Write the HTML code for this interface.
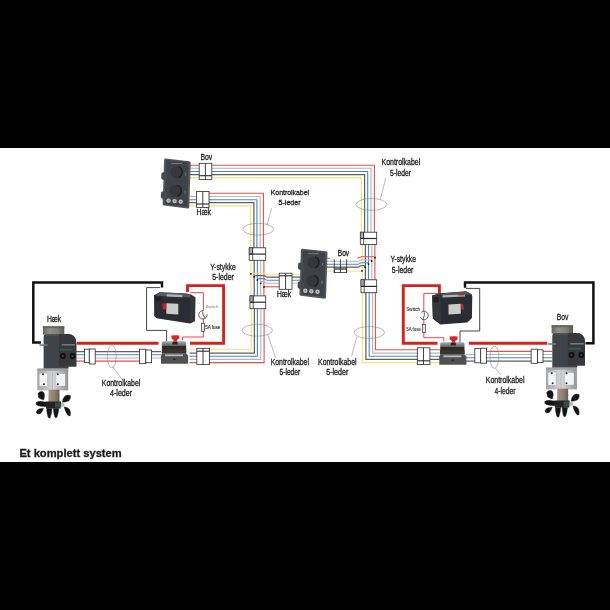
<!DOCTYPE html>
<html><head><meta charset="utf-8">
<style>
html,body{margin:0;padding:0;background:#fff;width:610px;height:610px;overflow:hidden}
svg{display:block;will-change:transform}
text{font-family:"Liberation Sans",sans-serif;fill:#1a1a1a;stroke:#1a1a1a;stroke-width:0.3}
.lbl{font-size:8.2px}
.w{fill:none;stroke-width:1.1}
.r{stroke:#e25050}.g{stroke:#b5b5b5}.b{stroke:#4a84d0}.d{stroke:#606060;stroke-width:1.25}.y{stroke:#f5e27a}
</style></head><body>
<svg width="610" height="610" viewBox="0 0 610 610">

<defs>
<linearGradient id="cyl" x1="0" x2="1" y1="0" y2="0">
<stop offset="0" stop-color="#646660"/><stop offset="0.3" stop-color="#8f9088"/><stop offset="0.7" stop-color="#7f8079"/><stop offset="1" stop-color="#585a55"/>
</linearGradient>
<linearGradient id="brk" x1="0" x2="1" y1="0" y2="0">
<stop offset="0" stop-color="#a4a5a8"/><stop offset="0.5" stop-color="#d4d5d7"/><stop offset="1" stop-color="#939497"/>
</linearGradient>
<linearGradient id="lid" x1="0" x2="0" y1="0" y2="1">
<stop offset="0" stop-color="#a9aaad"/><stop offset="1" stop-color="#5d5e61"/>
</linearGradient>
<radialGradient id="knob" cx="0.35" cy="0.4" r="0.7">
<stop offset="0" stop-color="#4a4c50"/><stop offset="1" stop-color="#222326"/>
</radialGradient>
<g id="panel">
<path d="M165.6,158.6 L189.2,161.2 Q190.8,161.4 190.7,163 L189.3,207.2 Q189.2,208.8 187.6,208.6 L164,205.6 Q162.5,205.4 162.6,204 L164.1,160 Q164.2,158.5 165.6,158.6 Z" fill="#55585c"/>
<path d="M166,160.1 L188.6,162.6 L187.6,207 L164.3,204.2 Z" fill="#3f4246"/>
<path d="M161.4,173.5 Q162,172 165,172.4 L167.5,173.5 L167.5,179.6 L164,180 Q161.2,179.8 161.2,177.5 Z" fill="#46494d"/>
<path d="M161,192.4 Q161.6,190.9 164.6,191.3 L167.1,192.4 L167.1,198.5 L163.6,198.9 Q160.8,198.7 160.8,196.4 Z" fill="#46494d"/>
<circle cx="176.4" cy="172.2" r="5.9" fill="#35373b"/>
<path d="M178.4,166.7 A5.9,5.9 0 0 1 178.4,177.7" fill="none" stroke="#1e1f22" stroke-width="1.4"/>
<circle cx="175.5" cy="190.8" r="5.9" fill="#35373b"/>
<path d="M177.5,185.3 A5.9,5.9 0 0 1 177.5,196.3" fill="none" stroke="#1e1f22" stroke-width="1.4"/>
<rect x="171.2" y="163.1" width="11" height="0.9" fill="#7d8084"/>
<rect x="185.1" y="172.6" width="1" height="3.2" fill="#4f8c68"/>
<rect x="184.6" y="190.6" width="1" height="3.2" fill="#4f8c68"/>
<circle cx="168.5" cy="200.6" r="2.2" fill="#c3c4c6"/><circle cx="168.5" cy="200.6" r="1" fill="#8a8c8f"/>
<circle cx="174.6" cy="201.1" r="2.2" fill="#c3c4c6"/><circle cx="174.6" cy="201.1" r="1" fill="#8a8c8f"/>
<circle cx="180.7" cy="201.6" r="2.2" fill="#c3c4c6"/><circle cx="180.7" cy="201.6" r="1" fill="#8a8c8f"/>
</g>
<g id="thruster">
<rect x="42.9" y="326.2" width="21.4" height="8.4" fill="url(#cyl)"/>
<rect x="42.9" y="326.2" width="21.4" height="2" fill="#5c5e59" opacity="0.8"/>
<path d="M37.3,368.6 L68.2,368.6 L68.2,390.4 L37.3,390.4 Z" fill="url(#brk)"/>
<rect x="37.3" y="368.6" width="30.9" height="2.2" fill="#9d9ea0"/>
<rect x="39.5" y="373.6" width="7.6" height="12.4" fill="#f4f4f4"/>
<rect x="56.3" y="373.8" width="8.8" height="12" fill="#f4f4f4"/>
<line x1="52.4" y1="369" x2="52.4" y2="390" stroke="#a9aaac" stroke-width="0.7"/>
<circle cx="43" cy="374.2" r="1" fill="#333"/><circle cx="44" cy="384.3" r="1" fill="#333"/>
<circle cx="57.8" cy="374.2" r="1" fill="#333"/><circle cx="57.8" cy="384.3" r="1" fill="#333"/>
<path d="M43.6,337.2 Q43.6,333.9 46.8,333.9 L67,333.9 Q76.3,334 76.3,343 L76.3,366.6 L68.5,366.6 L68.5,368.6 L43.6,368.6 Z" fill="#404347"/>
<path d="M59.1,334.1 L67,334.1 Q76.3,334.2 76.3,343 L76.3,366.6 L59.1,366.6 Z" fill="#36383b"/>
<rect x="46" y="334.2" width="13" height="1.4" fill="#54575b"/>
<rect x="39.4" y="344.2" width="8" height="1.6" fill="#7a7c7f"/>
<rect x="61.6" y="344.4" width="13.4" height="0.9" fill="#a5a7a9"/>
<rect x="59.9" y="348.6" width="12.5" height="2" fill="#3a5650"/>
<circle cx="62.9" cy="356" r="2.9" fill="#0e0e0e"/><circle cx="62.9" cy="356" r="1.1" fill="#4a4a4a"/>
<circle cx="72.6" cy="356" r="2.9" fill="#0e0e0e"/><circle cx="72.6" cy="356" r="1.1" fill="#4a4a4a"/>
<defs><linearGradient id="shaft" x1="0" x2="1"><stop offset="0" stop-color="#a39580"/><stop offset="0.6" stop-color="#8a7e6b"/><stop offset="1" stop-color="#5f5a52"/></linearGradient></defs>
<path d="M48.6,389.8 L59.4,389.8 L59.6,402 L48.4,402 Z" fill="url(#shaft)"/>
<g fill="#141414" stroke="#141414" stroke-width="0.4" stroke-linejoin="round">
<path d="M38,393.5 Q39.5,390.8 42.5,391.6 Q45,393 44.4,397 L43.6,400 Q40.5,399.4 38.6,397.5 Z"/>
<path d="M36,402.6 Q38,401 42,401.4 L48,402.5 L47.8,406.4 Q41.5,407 37.5,405.5 Q35.7,404.4 36,402.6 Z"/>
<path d="M36.2,412.8 Q36.4,409.8 39.5,408.8 L43.5,408.2 Q42.6,411.8 40.5,413.6 Q37.8,414.6 36.2,412.8 Z"/>
<path d="M46.6,408.2 L52,408.4 Q51.8,413.5 50.2,417.8 Q48.6,418.8 48,416.8 Q46.7,412.8 46.6,408.2 Z"/>
<path d="M53.4,408.2 L58.8,408.4 Q58.4,413.4 57,417.2 Q55.4,418.4 54.6,416.4 Q53.5,412.6 53.4,408.2 Z"/>
<path d="M64.2,407 Q67.8,406.6 69.8,409.8 Q71,413.2 70.2,415.8 Q68.4,416.6 67.2,414.2 Q65,410.8 64.2,407 Z"/>
<path d="M62.4,402.2 Q62.8,398 65,396 Q68,394.4 70.4,395.6 Q71.2,398.4 69,400.8 Q66,402.4 62.4,402.2 Z"/>
</g>
<path d="M45.8,401.4 L61,401.4 L60.6,408.6 L46.2,408.6 Z" fill="#232427"/>
<path d="M55,402.5 L60.5,402.5 L60.4,407.5 L55,407.5 Z" fill="#3a4a48"/>
<path d="M61,403 L64.5,403.5 L64.5,406.5 L61,406.8 Z" fill="#b8b8b8"/>
</g>
<g id="batL">
<path d="M154,295.2 L159.5,292.2 L186,293.6 L191,294.4 L195.3,297.2 L195,321 L189.8,323.5 L156.5,318.2 L154.2,316 Z" fill="#2a2d33"/>
<path d="M190.3,296.6 L195.3,297.2 L195,321 L189.8,323.5 Z" fill="#33363b"/>
<path d="M159.5,292.2 L186,293.6 L191,294.4 L190.2,297.6 L155.5,295.8 Z" fill="#55585d"/>
<path d="M166.8,294 L182.4,295 L182.2,297.2 L166.6,296.4 Z" fill="#b0b2b4"/>
<path d="M155.5,297 L161,297.4 L160.8,301.5 L155.6,301 Z" fill="#1d1f23"/>
<path d="M166.3,303.2 L178.3,303.8 L178.3,314.4 L166.3,313.8 Z" fill="#cbcbc8"/>
<path d="M162.2,303.4 L166.3,303.2 L166.3,309.4 L162.6,309.2 Z" fill="#b8272d"/>
</g>
<g id="sol">
<path d="M441.5,342.3 L463,342.3 Q464.5,342.3 464.5,344 L464.5,347 L440.2,347 L440.2,344 Q440.2,342.3 441.5,342.3 Z" fill="url(#lid)"/>
<rect x="440.2" y="347" width="24.3" height="7.4" fill="#2e2a26"/><rect x="440.2" y="350.5" width="24.3" height="3.9" fill="#3a342e"/>
<path d="M440.2,354.4 L464.5,354.4 L466.4,356.5 L466.4,364.8 L439.3,364.8 L439.3,356.5 Z" fill="#4f5052"/>
<rect x="443.3" y="355.4" width="18" height="1.8" fill="#b9babc"/>
<ellipse cx="452.7" cy="360.4" rx="1.2" ry="0.8" fill="#222"/>
<path d="M450.8,342.8 L455.8,342.8 L456,345.4 L450.6,345.4 Z" fill="#1f2a3a"/>
<path d="M449.6,336.6 Q453.7,335.8 457.7,336.6 L457.5,339.6 L455.2,341 L455.2,343 L451.8,343 L451.8,341 L449.8,339.6 Z" fill="#d9262c"/>
</g>
</defs>
<rect x="0" y="0" width="610" height="610" fill="#fff"/>
<!-- black bars -->
<rect x="0" y="0" width="610" height="148" fill="#000"/>
<rect x="0" y="462" width="610" height="148" fill="#000"/>

<!-- ===== WIRES ===== -->
<g id="wires">
<polyline class="w r" points="190,165.3 374.4,165.3 374.4,238 374.9,238.5 374.9,286 375.4,286.6 375.4,349.8 440,349.8"/>
<polyline class="w g" points="190,168.2 371,168.2 371,238 371.8,238.5 371.8,286 372.5,286.6 372.5,353.1 440,353.1"/>
<polyline class="w b" points="190,171.5 367.7,171.5 367.7,238 368.5,238.5 368.5,286 369.2,286.6 369.2,356.2 440,356.2"/>
<polyline class="w d" points="190,174.7 364.6,174.7 364.6,238 365.4,238.5 365.4,286 365.9,286.6 365.9,359.3 440,359.3"/>
<polyline class="w y" points="190,177.9 361.4,177.9 361.4,238 362.2,238.5 362.2,286 362.5,286.6 362.5,362.6 440,362.6"/>
<polyline class="w r" points="209,193.2 263.5,193.2 263.5,254 263.9,254.5 263.9,302 264.1,302.5 264.1,362.6 189.5,362.6"/>
<polyline class="w g" points="189,196.5 260.2,196.5 260.2,254 260.6,254.5 260.6,302 260.8,302.5 260.8,359.4 189.5,359.4"/>
<polyline class="w b" points="189,199.7 256.9,199.7 256.9,254 257.4,254.5 257.4,356.2 189.5,356.2"/>
<polyline class="w d" points="189,202.7 253.9,202.7 253.9,254 254.2,254.5 254.2,302 254.4,302.5 254.4,353 189.5,353"/>
<polyline class="w y" points="189,205.9 250.6,205.9 250.6,254 251,254.5 251,302 251.3,302.5 251.3,349.3 189.5,349.3"/>
</g>

<!-- branch wires left (to middle Haek) -->
<g class="w">
<path class="w y" d="M250.9,273.3 L265.2,273.3 L266.6,274.7 L300,274.7"/>
<path class="w d" d="M254.1,276.8 C254.1,275.9 254.8,275.6 255.8,275.6 L264.4,275.6 C265.4,275.6 265.8,277.2 267,277.2 L300,277.2"/>
<path class="w b" d="M257.4,279.8 C257.4,278.9 258,278.6 259,278.6 L264,278.6 C265,278.6 265.8,280.2 267,280.2 L300,280.2"/>
<path class="w g" d="M260.7,283.2 C260.7,282.2 261.2,281.6 262.2,281.6 L264,281.6 C265,281.6 265.8,283.2 267,283.2 L298,283.2"/>
<path class="w r" d="M264,286.8 L280,286.8"/>
<!-- branch wires right (to middle Bov) -->
<path class="w r" d="M374.9,257.6 L374.9,256.8 L361.4,256.8 C359.8,256.8 358.8,258.3 357.3,258.3"/>
<path class="w r" d="M327.5,258.3 L330,258.3"/>
<path class="w g" d="M371.7,261 C371.7,260.2 371.2,259.8 370.2,259.8 L361,259.8 C360,259.8 359.4,261.3 358.4,261.3 L327,261.3"/>
<path class="w b" d="M368.5,264 C368.5,263.1 368,262.7 367,262.7 L361,262.7 C360,262.7 359.4,264.2 358.4,264.2 L327,264.2"/>
<path class="w d" d="M365.2,267.2 C365.2,266.2 364.7,265.6 363.7,265.6 L361,265.6 C360,265.6 359.4,267.2 358.4,267.2 L327,267.2"/>
<path class="w y" d="M362,271 L327,271.2"/>
</g>
<g fill="#111">
<circle cx="250.9" cy="273.8" r="0.9"/><circle cx="254.1" cy="276.9" r="0.9"/><circle cx="257.4" cy="279.9" r="0.9"/><circle cx="260.7" cy="283.3" r="0.9"/><circle cx="264" cy="286.9" r="0.9"/>
<circle cx="375" cy="257.8" r="0.9"/><circle cx="371.7" cy="261" r="0.9"/><circle cx="368.5" cy="264.1" r="0.9"/><circle cx="365.2" cy="267.3" r="0.9"/><circle cx="362" cy="270.9" r="0.9"/>
</g>

<!-- 4-wire cables -->
<line class="w d" x1="75" y1="351.5" x2="161" y2="351.5"/>
<line class="w b" x1="75" y1="354.8" x2="161" y2="354.8"/>
<line class="w g" x1="75" y1="358" x2="161" y2="358"/>
<line class="w r" x1="75" y1="361.1" x2="146" y2="361.1"/>
<line class="w r" x1="480" y1="351.4" x2="552" y2="351.4"/>
<line class="w g" x1="466" y1="354.5" x2="552" y2="354.5"/>
<line class="w b" x1="466" y1="357.7" x2="552" y2="357.7"/>
<line class="w d" x1="466" y1="361" x2="552" y2="361"/>

<!-- thick red/black power lines -->
<g fill="none" stroke-linejoin="miter">
<polyline stroke="#d8211b" stroke-width="2.9" points="77,343.2 158.5,343.2"/>
<polyline stroke="#d8211b" stroke-width="2.9" points="187.5,292 187.5,285.6 223.6,285.6 223.6,343.2 190,343.2"/>
<polyline stroke="#d8211b" stroke-width="2.9" points="439.4,294 439.4,285.6 403.3,285.6 403.3,343.3 437.5,343.3"/>
<polyline stroke="#d8211b" stroke-width="2.9" points="468.9,343.3 547.3,343.3"/>
<polyline stroke="#111" stroke-width="2.5" points="41,342.6 33.3,342.6 33.3,282.5 162,282.5 162,287.5"/>
<polyline stroke="#111" stroke-width="2.5" points="465,287.8 465,282.4 593.4,282.4 593.4,343.2 585.5,343.2"/>
<polyline stroke="#333" stroke-width="0.9" points="160,287.6 146.6,287.6 146.6,330.4 166.6,330.4 166.6,341"/>
<polyline stroke="#333" stroke-width="0.9" points="466,288.4 479.7,288.4 479.7,331 460,331 460,342.5"/>
<polyline stroke="#e4494a" stroke-width="1" points="190.2,292.7 203.4,292.7 203.4,337 182.4,337 182.4,340"/>
<polyline stroke="#e4494a" stroke-width="1" points="441.6,293.4 423.8,293.4 423.8,337.7 443.9,337.7 443.9,341.4"/>
</g>

<!-- devices -->
<use href="#panel"/>
<use href="#panel" transform="translate(136.8,90.1)"/>
<use href="#thruster"/>
<use href="#thruster" transform="translate(508.7,-1)"/>
<use href="#batL"/>
<g>
<path d="M432.1,295.5 L440.5,293.3 L466,291.3 L471.4,294 L472.3,296 L471.9,318 L467.3,322.5 L440.3,324.5 L432.9,318.8 Z" fill="#2a2d33"/>
<path d="M432.1,295.5 L440.5,293.3 L441.1,324.4 L432.9,318.8 Z" fill="#33363b"/>
<path d="M441.2,293.4 L466,291.5 L471.4,294.2 L441.6,297.6 Z" fill="#55585d"/>
<path d="M442.8,295.2 L464.9,294.4 L464.9,296.6 L442.8,297.5 Z" fill="#b0b2b4"/>
<path d="M458.3,293.9 L464.1,293.4 L464.1,295.2 L458.3,295.6 Z" fill="#b8272d"/>
<path d="M433.6,297.6 L438.4,297 L438.6,302 L433.8,302.4 Z" fill="#1d1f23"/>
<path d="M448.5,304.6 L460.8,303.8 L460.8,313.8 L448.5,314.4 Z" fill="#cbcbc8"/>
<path d="M460.8,303.6 L463.3,304.6 L464.1,309.8 L460.8,309 Z" fill="#b8272d"/>
</g>
<use href="#sol"/>
<use href="#sol" transform="translate(-278.3,-1)"/>

<!-- connectors -->
<rect x="199.2" y="163.3" width="12.60" height="16.10" fill="#fff" stroke="#2b2b2b" stroke-width="0.8"/><line x1="205.4" y1="163.3" x2="205.4" y2="179.4" stroke="#2b2b2b" stroke-width="0.9"/><line x1="199.2" y1="175.7" x2="211.8" y2="175.7" stroke="#2b2b2b" stroke-width="1.1"/>
<rect x="196.6" y="191.4" width="12.40" height="16.20" fill="#fff" stroke="#2b2b2b" stroke-width="0.8"/><line x1="202.8" y1="191.4" x2="202.8" y2="207.6" stroke="#2b2b2b" stroke-width="0.9"/><line x1="196.6" y1="204.0" x2="209" y2="204.0" stroke="#2b2b2b" stroke-width="1.1"/>
<rect x="279.2" y="273.2" width="12.80" height="16.10" fill="#fff" stroke="#2b2b2b" stroke-width="0.8"/><line x1="285.6" y1="273.2" x2="285.6" y2="289.3" stroke="#2b2b2b" stroke-width="0.9"/><line x1="279.2" y1="275.8" x2="292" y2="275.8" stroke="#2b2b2b" stroke-width="1.1"/>
<rect x="196.8" y="348.3" width="12.80" height="16.30" fill="#fff" stroke="#2b2b2b" stroke-width="0.8"/><line x1="203.0" y1="348.3" x2="203.0" y2="364.6" stroke="#2b2b2b" stroke-width="0.9"/><line x1="196.8" y1="351.2" x2="209.6" y2="351.2" stroke="#2b2b2b" stroke-width="1.1"/>
<rect x="417.3" y="347.8" width="12.60" height="16.70" fill="#fff" stroke="#2b2b2b" stroke-width="0.8"/><line x1="423.5" y1="347.8" x2="423.5" y2="364.5" stroke="#2b2b2b" stroke-width="0.9"/><line x1="417.3" y1="360.8" x2="429.9" y2="360.8" stroke="#2b2b2b" stroke-width="1.1"/>
<rect x="249.2" y="247.8" width="16.50" height="12.50" fill="#fff" stroke="#2b2b2b" stroke-width="0.8"/><rect x="249.2" y="247.8" width="3.50" height="6.30" fill="#aaa" stroke="#2b2b2b" stroke-width="0.6"/><line x1="249.2" y1="254.1" x2="265.7" y2="254.1" stroke="#2b2b2b" stroke-width="1.2"/><line x1="252.7" y1="247.8" x2="252.7" y2="260.3" stroke="#2b2b2b" stroke-width="0.8"/>
<rect x="250" y="295.9" width="15.70" height="12.80" fill="#fff" stroke="#2b2b2b" stroke-width="0.8"/><rect x="250" y="295.9" width="3.20" height="6.30" fill="#aaa" stroke="#2b2b2b" stroke-width="0.6"/><line x1="250" y1="302.2" x2="265.7" y2="302.2" stroke="#2b2b2b" stroke-width="1.2"/><line x1="253.2" y1="295.9" x2="253.2" y2="308.7" stroke="#2b2b2b" stroke-width="0.8"/>
<rect x="360.3" y="232.2" width="16.40" height="12.40" fill="#fff" stroke="#2b2b2b" stroke-width="0.8"/><rect x="360.3" y="232.2" width="3.30" height="6.50" fill="#aaa" stroke="#2b2b2b" stroke-width="0.6"/><line x1="360.3" y1="238.5" x2="376.7" y2="238.5" stroke="#2b2b2b" stroke-width="1.2"/><line x1="363.6" y1="232" x2="363.6" y2="244.4" stroke="#2b2b2b" stroke-width="0.8"/>
<rect x="361" y="279.8" width="15.70" height="12.90" fill="#fff" stroke="#2b2b2b" stroke-width="0.8"/><rect x="361" y="279.8" width="3.20" height="6.60" fill="#aaa" stroke="#2b2b2b" stroke-width="0.6"/><line x1="361" y1="286.4" x2="376.7" y2="286.4" stroke="#2b2b2b" stroke-width="1.2"/><line x1="364.2" y1="279.8" x2="364.2" y2="292.7" stroke="#2b2b2b" stroke-width="0.8"/>
<rect x="84.4" y="349.2" width="4.90" height="13.40" fill="#fff" stroke="#2b2b2b" stroke-width="0.8"/><rect x="89.3" y="349.0" width="5.90" height="15.00" fill="#fff" stroke="#2b2b2b" stroke-width="0.8"/>
<rect x="139.5" y="349.2" width="6.30" height="14.50" fill="#fff" stroke="#2b2b2b" stroke-width="0.8"/><rect x="145.8" y="350.0" width="5.80" height="12.70" fill="#fff" stroke="#2b2b2b" stroke-width="0.8"/>
<rect x="474.8" y="348.4" width="5.90" height="14.40" fill="#fff" stroke="#2b2b2b" stroke-width="0.8"/><rect x="480.7" y="348.2" width="5.90" height="15.00" fill="#fff" stroke="#2b2b2b" stroke-width="0.8"/>
<rect x="531.1" y="349.2" width="6.5" height="14.1" fill="#fff" stroke="#2b2b2b" stroke-width="0.8"/><rect x="537.6" y="349.8" width="5.4" height="12.8" fill="#fff" stroke="#2b2b2b" stroke-width="0.8"/>
<rect x="334.3" y="268.2" width="12.3" height="4.4" fill="#fff" stroke="#2b2b2b" stroke-width="0.8"/><line x1="334.3" y1="269.2" x2="346.6" y2="269.2" stroke="#777" stroke-width="1.6"/><line x1="334.3" y1="259.3" x2="334.3" y2="272.6" stroke="#2b2b2b" stroke-width="0.8"/><line x1="340.5" y1="259.3" x2="340.5" y2="272.6" stroke="#2b2b2b" stroke-width="0.8"/><line x1="346.6" y1="259.3" x2="346.6" y2="272.6" stroke="#2b2b2b" stroke-width="0.8"/>


<g fill="none" stroke="#8a8a8a" stroke-width="0.6"><ellipse cx="258.2" cy="229.2" rx="15.4" ry="5.9"/><ellipse cx="257.3" cy="330.3" rx="15.2" ry="5.9"/><ellipse cx="371.4" cy="204.4" rx="15.4" ry="5.9"/><ellipse cx="369.3" cy="332.5" rx="15.2" ry="6.0"/><ellipse cx="111.8" cy="356.5" rx="4.4" ry="11.2"/><ellipse cx="494.4" cy="357.2" rx="4.4" ry="11.2"/><line x1="271.6" y1="208.3" x2="267" y2="225.4"/><line x1="385.7" y1="178.2" x2="380.4" y2="199.1"/><line x1="267.7" y1="334.3" x2="275.6" y2="357.9"/><line x1="356.6" y1="336.9" x2="351.6" y2="356.6"/><line x1="112.5" y1="366.7" x2="123.1" y2="380.7"/><line x1="495.7" y1="368.4" x2="500.6" y2="374.6"/></g>
<circle cx="203.0" cy="314.8" r="4.2" fill="#fff" stroke="none"/><path d="M207.10,314.20 A4.2,4.2 0 1 1 203.60,310.65" fill="none" stroke="#2a2a2a" stroke-width="0.75"/><path d="M202.70,311.40 Q202.20,315.30 205.20,318.20" fill="none" stroke="#2a2a2a" stroke-width="0.75"/><circle cx="424.0" cy="315.5" r="4.2" fill="#fff" stroke="none"/><path d="M420.10,317.10 A4.2,4.2 0 1 0 421.40,312.20" fill="none" stroke="#2a2a2a" stroke-width="0.75"/><path d="M424.20,312.10 Q425.20,315.50 422.80,319.40" fill="none" stroke="#2a2a2a" stroke-width="0.75"/><rect x="201.6" y="323.2" width="3" height="8.4" fill="#e8e8e8" stroke="#333" stroke-width="0.7"/><rect x="422.4" y="324.3" width="3" height="8.3" fill="#e8e8e8" stroke="#333" stroke-width="0.7"/>

<!-- labels -->
<g fill="#1a1a1a"><text x="200.5" y="159.7" font-size="9.3" textLength="11.80" lengthAdjust="spacingAndGlyphs">Bov</text>
<text x="196.6" y="215.1" font-size="8.18" textLength="14.40" lengthAdjust="spacingAndGlyphs">Hæk</text>
<text x="270.7" y="194.6" font-size="8.05" textLength="38.40" lengthAdjust="spacingAndGlyphs">Kontrolkabel</text>
<text x="278.6" y="204.6" font-size="7.77" textLength="22.00" lengthAdjust="spacingAndGlyphs">5-leder</text>
<text x="381.5" y="165" font-size="8.59" textLength="38.70" lengthAdjust="spacingAndGlyphs">Kontrolkabel</text>
<text x="390" y="175.5" font-size="8.18" textLength="21.00" lengthAdjust="spacingAndGlyphs">5-leder</text>
<text x="210.2" y="269.8" font-size="9.01" textLength="25.60" lengthAdjust="spacingAndGlyphs">Y-stykke</text>
<text x="212.2" y="280" font-size="9.01" textLength="21.70" lengthAdjust="spacingAndGlyphs">5-leder</text>
<text x="390.5" y="262.3" font-size="9.01" textLength="25.50" lengthAdjust="spacingAndGlyphs">Y-stykke</text>
<text x="391.8" y="273.2" font-size="8.87" textLength="21.60" lengthAdjust="spacingAndGlyphs">5-leder</text>
<text x="277" y="297.4" font-size="8.18" textLength="14.20" lengthAdjust="spacingAndGlyphs">Hæk</text>
<text x="337.8" y="256.4" font-size="8.18" textLength="11.30" lengthAdjust="spacingAndGlyphs">Bov</text>
<text x="270.7" y="364.8" font-size="9.01" textLength="38.30" lengthAdjust="spacingAndGlyphs">Kontrolkabel</text>
<text x="279.5" y="374.6" font-size="8.18" textLength="20.70" lengthAdjust="spacingAndGlyphs">5-leder</text>
<text x="318" y="364.8" font-size="9.01" textLength="38.60" lengthAdjust="spacingAndGlyphs">Kontrolkabel</text>
<text x="326.2" y="374.6" font-size="8.59" textLength="22.20" lengthAdjust="spacingAndGlyphs">5-leder</text>
<text x="46.9" y="321.8" font-size="9.01" textLength="14.40" lengthAdjust="spacingAndGlyphs">Hæk</text>
<text x="556.7" y="320.4" font-size="9.01" textLength="11.60" lengthAdjust="spacingAndGlyphs">Bov</text>
<text x="101.8" y="386.4" font-size="9.01" textLength="38.50" lengthAdjust="spacingAndGlyphs">Kontrolkabel</text>
<text x="110" y="396.2" font-size="8.87" textLength="22.10" lengthAdjust="spacingAndGlyphs">4-leder</text>
<text x="485.8" y="383.2" font-size="9.01" textLength="38.70" lengthAdjust="spacingAndGlyphs">Kontrolkabel</text>
<text x="494.4" y="394.3" font-size="9.01" textLength="21.00" lengthAdjust="spacingAndGlyphs">4-leder</text>
<text x="205.4" y="307.6" font-size="3" textLength="13.2" lengthAdjust="spacingAndGlyphs" style="stroke-width:0;fill:#777">Switch</text>
<text x="205.2" y="329.3" font-size="4.7" textLength="15.2" lengthAdjust="spacingAndGlyphs" style="stroke-width:0.1;fill:#222">5A fuse</text>
<text x="406.2" y="311.3" font-size="4.6" textLength="14" lengthAdjust="spacingAndGlyphs" style="stroke-width:0.08;fill:#333">Switch</text>
<text x="406.2" y="331.3" font-size="4.6" textLength="14.8" lengthAdjust="spacingAndGlyphs" style="stroke-width:0.08;fill:#333">5A fuse</text>
<text x="19.4" y="457.3" font-size="11.60" font-weight="bold" textLength="102.3" lengthAdjust="spacingAndGlyphs" fill="#000">Et komplett system</text></g>

</svg>
</body></html>
